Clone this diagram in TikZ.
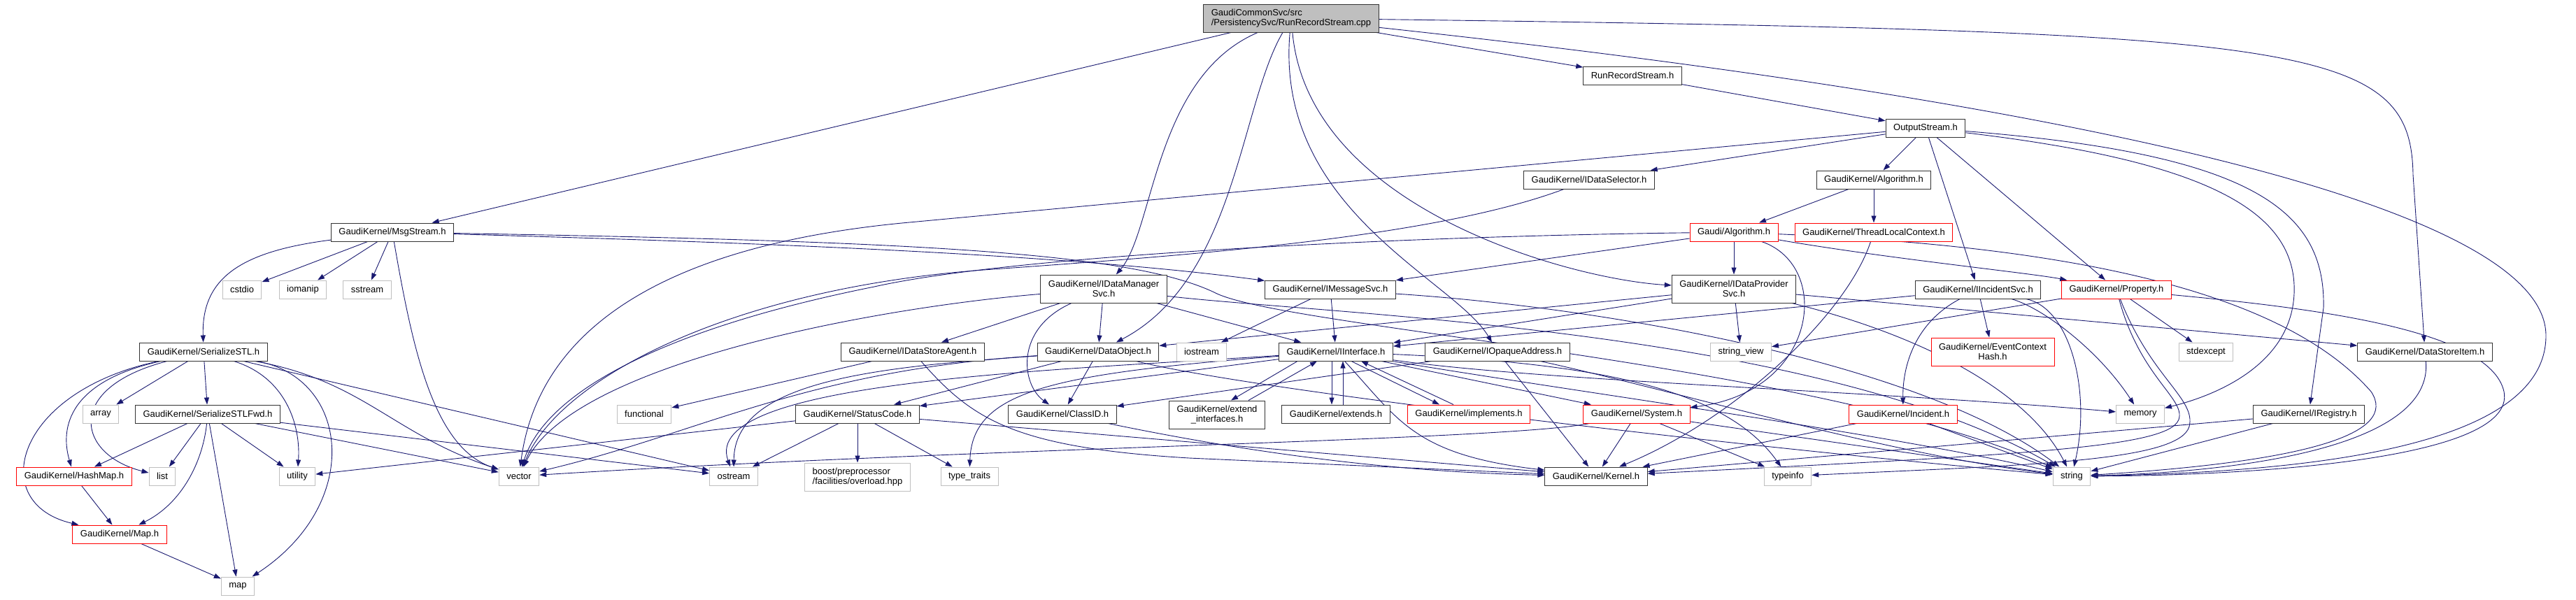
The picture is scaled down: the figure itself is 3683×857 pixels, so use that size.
\documentclass[tikz,border=0pt]{standalone}
\usepackage{fontspec}
\setmainfont{Liberation Sans}
\usetikzlibrary{arrows.meta}
\definecolor{edgeblue}{HTML}{191970}
\pgfdeclarelayer{bg}
\pgfsetlayers{bg,main}
\tikzset{
    hdr/.style={draw=black!80, fill=white, line width=1pt, inner xsep=11pt, inner ysep=2pt,
      minimum height=26pt, font=\fontsize{13}{14}\selectfont},
    sys/.style={hdr, draw=black!25},
    trunc/.style={hdr, draw=red},
    twoline/.style={align=center, minimum height=40pt},
    rootfile/.style={hdr, fill=black!25, align=left, minimum height=40pt},
    inc/.style={draw=edgeblue, line width=0.9pt, -{Triangle[length=10pt,width=7pt]}},
  }

\begin{document}
\begin{tikzpicture}[x=1pt,y=-1pt]
				  \useasboundingbox (0,0) rectangle (3683,857);
				  %ROOT
				  \node[rootfile] (root) at (1846,26) {GaudiCommonSvc/src\\/PersistencySvc/RunRecordStream.cpp};
				  
				  %RUN RECORD, OUTPUT STREAM
				  \node[hdr] (rrsh) at (2334,108) {RunRecordStream.h};
				  \node[hdr] (outstream) at (2753,183) {OutputStream.h};
				  \node[hdr] (idatasel) at (2272,257) {GaudiKernel/IDataSelector.h};
				  \node[hdr] (algk) at (2679,257) {GaudiKernel/Algorithm.h};
				  \node[trunc] (galgo) at (2479,332) {Gaudi/Algorithm.h};
				  \node[trunc] (tlc) at (2679,332) {GaudiKernel/ThreadLocalContext.h};
				  
				  %MSGSTREAM
				  \node[hdr] (msgstream) at (561,332) {GaudiKernel/MsgStream.h};
				  \node[sys] (cstdio) at (346,414) {cstdio};
				  \node[sys] (iomanip) at (433,414) {iomanip};
				  \node[sys] (sstream) at (525,414) {sstream};
				  
				  %SERVICES
				  \node[hdr,twoline] (idms) at (1578,413) {GaudiKernel/IDataManager\\Svc.h};
				  \node[hdr] (imsg) at (1902,414) {GaudiKernel/IMessageSvc.h};
				  \node[hdr,twoline] (idps) at (2479,413) {GaudiKernel/IDataProvider\\Svc.h};
				  \node[hdr] (iinc) at (2828,414) {GaudiKernel/IIncidentSvc.h};
				  \node[trunc] (prop) at (3026,414) {GaudiKernel/Property.h};
				  
				  %ROW 503
				  \node[hdr] (sstl) at (291,503) {GaudiKernel/SerializeSTL.h};
				  \node[hdr] (idsa) at (1305,503) {GaudiKernel/IDataStoreAgent.h};
				  \node[hdr] (dobj) at (1570,503) {GaudiKernel/DataObject.h};
				  \node[sys] (iostream) at (1718,503) {iostream};
				  \node[hdr] (iint) at (1910,503) {GaudiKernel/IInterface.h};
				  \node[hdr] (iopaq) at (2141,503) {GaudiKernel/IOpaqueAddress.h};
				  \node[sys] (strview) at (2489,503) {string\_view};
				  \node[trunc,twoline] (evch) at (2849,503) {GaudiKernel/EventContext\\Hash.h};
				  \node[sys] (stdexcept) at (3154,503) {stdexcept};
				  \node[hdr] (dsitem) at (3467,503) {GaudiKernel/DataStoreItem.h};
				  
				  %ROW 592
				  \node[sys] (array) at (144,592) {array};
				  \node[hdr] (sstlfwd) at (297,592) {GaudiKernel/SerializeSTLFwd.h};
				  \node[sys] (functional) at (921,592) {functional};
				  \node[hdr] (statuscode) at (1226,592) {GaudiKernel/StatusCode.h};
				  \node[hdr] (classid) at (1519,592) {GaudiKernel/ClassID.h};
				  \node[hdr,twoline] (extint) at (1740,593) {GaudiKernel/extend\\\_interfaces.h};
				  \node[hdr] (extends) at (1910,592) {GaudiKernel/extends.h};
				  \node[trunc] (impl) at (2100,592) {GaudiKernel/implements.h};
				  \node[trunc] (system) at (2340,592) {GaudiKernel/System.h};
				  \node[trunc] (incident) at (2721,592) {GaudiKernel/Incident.h};
				  \node[sys] (memory) at (3060,592) {memory};
				  \node[hdr] (iregistry) at (3301,592) {GaudiKernel/IRegistry.h};
				  
				  %ROW 681
				  \node[trunc] (hashmap) at (106,681) {GaudiKernel/HashMap.h};
				  \node[sys] (list) at (232,681) {list};
				  \node[sys] (utility) at (425,681) {utility};
				  \node[sys] (vector) at (742,681) {vector};
				  \node[sys] (ostream) at (1049,681) {ostream};
				  \node[sys,align=left,minimum height=40pt] (boost) at (1226,682) {boost/preprocessor\\/facilities/overload.hpp};
				  \node[sys] (typetraits) at (1386,681) {type\_traits};
				  \node[hdr] (kernel) at (2282,681) {GaudiKernel/Kernel.h};
				  \node[sys] (typeinfo) at (2556,681) {typeinfo};
				  \node[sys] (string) at (2962,681) {string};
				  
				  %MAP
				  \node[trunc] (maph) at (171,764) {GaudiKernel/Map.h};
				  \node[sys] (map) at (340,838) {map};
				  
				  \begin{pgfonlayer}{bg}
				  %FROM ROOT
				  \draw[inc] (root) -- (msgstream);
				  \draw[inc] (root) .. controls (1650,110) and (1650,330) .. (idms);
				  \draw[inc] (root) .. controls (1773,150) and (1767,400) .. (dobj);
				  \draw[inc] (root) .. controls (1822,300) and (2080,400) .. (iopaq);
				  \draw[inc] (root) .. controls (1871,300) and (2250,400) .. (idps);
				  \draw[inc] (root) -- (rrsh);
				  \draw[inc] (root) .. controls (3300,45) and (3447,60) .. (3450,250) -- (dsitem);
				  \draw[inc] (root) .. controls (3000,150) and (3640,300) .. (3640,480) .. controls (3640,640) and (3300,675) .. (string);
				  
				  %OUTPUT STREAM
				  \draw[inc] (rrsh) -- (outstream);
				  \draw[inc] (outstream) -- (1300,318) .. controls (950,350) and (770,470) .. (vector);
				  \draw[inc] (outstream) -- (idatasel);
				  \draw[inc] (outstream) -- (algk);
				  \draw[inc] (outstream) -- (iinc);
				  \draw[inc] (outstream) -- (prop);
				  \draw[inc] (outstream) .. controls (3150,230) and (3285,300) .. (3280,420) .. controls (3275,530) and (3150,570) .. (memory);
				  \draw[inc] (outstream) .. controls (3220,220) and (3325,300) .. (3322,440) -- (iregistry);
				  \draw[inc] (idatasel) .. controls (2050,340) and (1700,365) .. (1420,385) .. controls (1050,410) and (800,540) .. (vector);
				  \draw[inc] (algk) -- (galgo);
				  \draw[inc] (algk) -- (tlc);
				  
				  %GAUDI ALGORITHM
				  \draw[inc] (galgo) -- (idps);
				  \draw[inc] (galgo) .. controls (2000,338) and (1450,365) .. (1250,410) .. controls (950,470) and (780,560) .. (vector);
				  \draw[inc] (galgo) -- (imsg);
				  \draw[inc] (galgo) .. controls (2700,370) and (2900,390) .. (prop);
				  \draw[inc] (galgo) .. controls (2900,350) and (3250,400) .. (3390,560) .. controls (3430,620) and (3300,660) .. (string);
				  \draw[inc] (galgo) .. controls (2620,380) and (2600,560) .. (system);
				  \draw[inc] (tlc) .. controls (2640,450) and (2480,600) .. (kernel);
				  
				  %MSGSTREAM
				  \draw[inc] (msgstream) .. controls (340,360) and (288,400) .. (sstl);
				  \draw[inc] (msgstream) -- (cstdio);
				  \draw[inc] (msgstream) -- (iomanip);
				  \draw[inc] (msgstream) -- (sstream);
				  \draw[inc] (msgstream) .. controls (590,500) and (620,640) .. (vector);
				  \draw[inc] (msgstream) .. controls (1000,345) and (1500,360) .. (imsg);
				  \draw[inc] (msgstream) .. controls (1300,345) and (1620,360) .. (1740,420) .. controls (1850,470) and (2600,520) .. (string);
				  
				  %SERIALIZE
				  \draw[inc] (sstl) -- (array);
				  \draw[inc] (sstl) -- (sstlfwd);
				  \draw[inc] (sstl) .. controls (100,545) and (85,610) .. (hashmap);
				  \draw[inc] (sstl) .. controls (90,555) and (110,650) .. (list);
				  \draw[inc] (sstl) .. controls (20,560) and (-20,720) .. (maph);
				  \draw[inc] (sstl) .. controls (410,540) and (430,610) .. (utility);
				  \draw[inc] (sstl) .. controls (500,540) and (520,720) .. (map);
				  \draw[inc] (sstl) .. controls (520,545) and (560,620) .. (vector);
				  \draw[inc] (sstl) -- (ostream);
				  \draw[inc] (sstlfwd) -- (hashmap);
				  \draw[inc] (sstlfwd) -- (list);
				  \draw[inc] (sstlfwd) .. controls (290,660) and (260,720) .. (maph);
				  \draw[inc] (sstlfwd) -- (map);
				  \draw[inc] (sstlfwd) -- (utility);
				  \draw[inc] (sstlfwd) -- (vector);
				  \draw[inc] (sstlfwd) -- (ostream);
				  \draw[inc] (hashmap) -- (maph);
				  \draw[inc] (maph) -- (map);
				  
				  %DATA MANAGER, MESSAGE, PROVIDER
				  \draw[inc] (idms) -- (idsa);
				  \draw[inc] (idms) -- (dobj);
				  \draw[inc] (idms) .. controls (1450,470) and (1460,550) .. (classid);
				  \draw[inc] (idms) -- (iint);
				  \draw[inc] (idms) .. controls (1250,440) and (820,520) .. (vector);
				  \draw[inc] (idms) .. controls (1900,450) and (2600,470) .. (string);
				  \draw[inc] (imsg) -- (iostream);
				  \draw[inc] (imsg) -- (iint);
				  \draw[inc] (imsg) .. controls (2300,440) and (2750,520) .. (string);
				  \draw[inc] (idps) -- (dobj);
				  \draw[inc] (idps) -- (iint);
				  \draw[inc] (idps) -- (strview);
				  \draw[inc] (idps) -- (dsitem);
				  \draw[inc] (idps) .. controls (2750,480) and (2900,560) .. (string);
				  
				  %INCIDENT, PROPERTY
				  \draw[inc] (iinc) -- (iint);
				  \draw[inc] (iinc) -- (evch);
				  \draw[inc] (iinc) .. controls (2740,460) and (2720,520) .. (incident);
				  \draw[inc] (iinc) .. controls (2920,440) and (3000,500) .. (memory);
				  \draw[inc] (iinc) .. controls (2960,440) and (2990,560) .. (string);
				  \draw[inc] (prop) -- (strview);
				  \draw[inc] (prop) -- (stdexcept);
				  \draw[inc] (prop) .. controls (3060,540) and (3125,570) .. (3115,600) .. controls (3100,640) and (2900,650) .. (kernel);
				  \draw[inc] (prop) .. controls (3075,540) and (3140,570) .. (3130,610) .. controls (3115,660) and (2900,665) .. (typeinfo);
				  \draw[inc] (prop) .. controls (3300,440) and (3560,470) .. (3580,560) .. controls (3600,660) and (3200,680) .. (string);
				  
				  %DATA OBJECT, INTERFACE
				  \draw[inc] (idsa) -- (functional);
				  \draw[inc] (idsa) .. controls (1390,600) and (1450,640) .. (1700,655) -- (kernel);
				  \draw[inc] (dobj) -- (classid);
				  \draw[inc] (dobj) -- (statuscode);
				  \draw[inc] (dobj) .. controls (1250,525) and (1050,545) .. (ostream);
				  \draw[inc] (dobj) .. controls (1150,530) and (1000,620) .. (vector);
				  \draw[inc] (dobj) .. controls (1800,560) and (2500,640) .. (string);
				  \draw[inc] (iint) -- (statuscode);
				  \draw[inc] ([xshift=-55pt]iint.south) -- ([xshift=20pt]extint.north);
				  \draw[inc] ([xshift=45pt]extint.north) -- ([xshift=-27pt]iint.south);
				  \draw[inc] ([xshift=-6pt]iint.south) -- ([xshift=-6pt]extends.north);
				  \draw[inc] ([xshift=10pt]extends.north) -- ([xshift=10pt]iint.south);
				  \draw[inc] ([xshift=22pt]iint.south) -- ([xshift=-42pt]impl.north);
				  \draw[inc] ([xshift=-22pt]impl.north) -- ([xshift=36pt]iint.south);
				  \draw[inc] (iint) -- (system);
				  \draw[inc] (iint) .. controls (2000,600) and (2020,650) .. (kernel);
				  \draw[inc] (iint) .. controls (1500,530) and (1000,545) .. (ostream);
				  \draw[inc] (iint) .. controls (1500,535) and (1390,560) .. (typetraits);
				  \draw[inc] (iint) .. controls (2300,520) and (2470,560) .. (typeinfo);
				  \draw[inc] (iint) .. controls (2200,545) and (2700,560) .. (memory);
				  \draw[inc] (iint) .. controls (2250,560) and (2700,620) .. (string);
				  \draw[inc] (iopaq) -- (classid);
				  \draw[inc] (iopaq) -- (kernel);
				  \draw[inc] (iopaq) .. controls (2400,560) and (2700,650) .. (string);
				  
				  %LOWER ROWS
				  \draw[inc] (statuscode) -- (boost);
				  \draw[inc] (statuscode) -- (ostream);
				  \draw[inc] (statuscode) -- (typetraits);
				  \draw[inc] (statuscode) -- (utility);
				  \draw[inc] (statuscode) -- (kernel);
				  \draw[inc] (classid) .. controls (1800,650) and (2000,675) .. (kernel);
				  \draw[inc] (system) -- (kernel);
				  \draw[inc] (system) -- (typeinfo);
				  \draw[inc] (system) -- (string);
				  \draw[inc] (system) .. controls (2150,630) and (1400,640) .. (vector);
				  \draw[inc] (incident) -- (kernel);
				  \draw[inc] (incident) -- (string);
				  \draw[inc] (iregistry) -- (kernel);
				  \draw[inc] (iregistry) -- (string);
				  \draw[inc] (dsitem) .. controls (3480,640) and (3200,675) .. (string);
				  \end{pgfonlayer}
\end{tikzpicture}
\end{document}
